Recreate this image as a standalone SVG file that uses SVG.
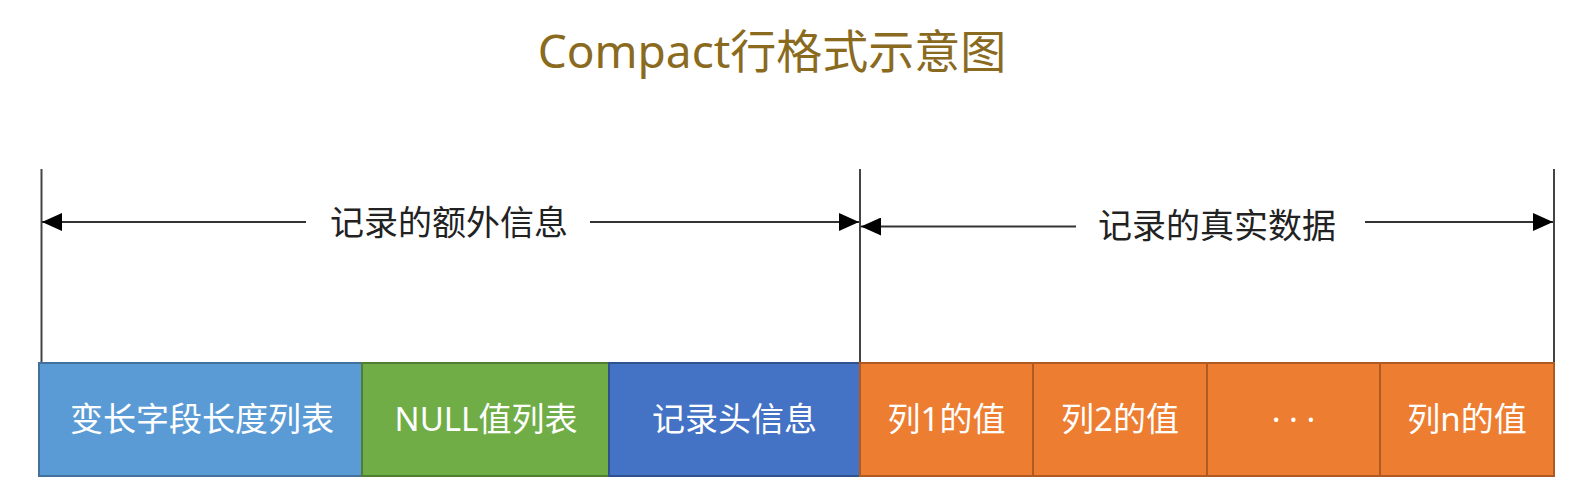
<svg xmlns="http://www.w3.org/2000/svg" width="1584" height="491" viewBox="0 0 1584 491">
  <defs>
    <style>
      .title { font-family: "Noto Sans", "Noto Sans CJK SC", sans-serif; font-size: 46px; fill: #8A6A1E; text-anchor: middle; }
      .lbl { font-family: "Noto Sans", "Noto Sans CJK SC", sans-serif; font-size: 34px; fill: #222; text-anchor: middle; }
      .cell { font-family: "Noto Sans", "Noto Sans CJK SC", sans-serif; font-size: 33px; fill: #FFFFFF; text-anchor: middle; }
      .tick { stroke: #444; stroke-width: 2; fill: none; }
      .arr { stroke: #333; stroke-width: 2.2; fill: none; marker-end: url(#ah); }
      .blue { fill: #5B9BD5; stroke: #41719C; stroke-width: 2; }
      .green { fill: #70AD47; stroke: #507E32; stroke-width: 2; }
      .dblue { fill: #4472C4; stroke: #2F528F; stroke-width: 2; }
      .orange { fill: #ED7D31; stroke: #AE5A21; stroke-width: 2; }
    </style>
    <marker id="ah" markerUnits="userSpaceOnUse" markerWidth="20" markerHeight="18" refX="20" refY="9" orient="auto" viewBox="0 0 20 18">
      <path d="M0,0 L20,9 L0,18 Z" fill="#000"/>
    </marker>
  </defs>
  <rect width="1584" height="491" fill="#FFFFFF"/>

  <text id="title" class="title" x="772" y="68">Compact行格式示意图</text>

  <g id="connectors">
    <line class="tick" x1="41.5" y1="169" x2="41.5" y2="363"/>
    <line class="tick" x1="860" y1="169" x2="860" y2="363"/>
    <line class="tick" x1="1554" y1="169" x2="1554" y2="363"/>
    <line class="arr" x1="306" y1="222" x2="42" y2="222"/>
    <line class="arr" x1="590" y1="222" x2="859" y2="222"/>
    <line class="arr" x1="1076" y1="226.5" x2="861" y2="226.5"/>
    <line class="arr" x1="1365" y1="222" x2="1553" y2="222"/>
  </g>

  <g id="label-extra">
    <text class="lbl" x="449" y="235">记录的额外信息</text>
  </g>
  <g id="label-data">
    <text class="lbl" x="1217" y="238">记录的真实数据</text>
  </g>

  <g id="node-varlen">
    <rect class="blue" x="39" y="363" width="323" height="113"/>
    <text class="cell" x="202" y="431">变长字段长度列表</text>
  </g>
  <g id="node-null">
    <rect class="green" x="362" y="363" width="247" height="113"/>
    <text class="cell" x="486" y="431">NULL值列表</text>
  </g>
  <g id="node-header">
    <rect class="dblue" x="609" y="363" width="251" height="113"/>
    <text class="cell" x="734.5" y="431">记录头信息</text>
  </g>
  <g id="node-col1">
    <rect class="orange" x="860" y="363" width="173" height="113"/>
    <text class="cell" x="946.5" y="431">列1的值</text>
  </g>
  <g id="node-col2">
    <rect class="orange" x="1033" y="363" width="174" height="113"/>
    <text class="cell" x="1120" y="431">列2的值</text>
  </g>
  <g id="node-dots">
    <rect class="orange" x="1207" y="363" width="173" height="113"/>
    <text class="cell" x="1293.5" y="431">· · ·</text>
  </g>
  <g id="node-coln">
    <rect class="orange" x="1380" y="363" width="174" height="113"/>
    <text class="cell" x="1467" y="431">列n的值</text>
  </g>
</svg>
